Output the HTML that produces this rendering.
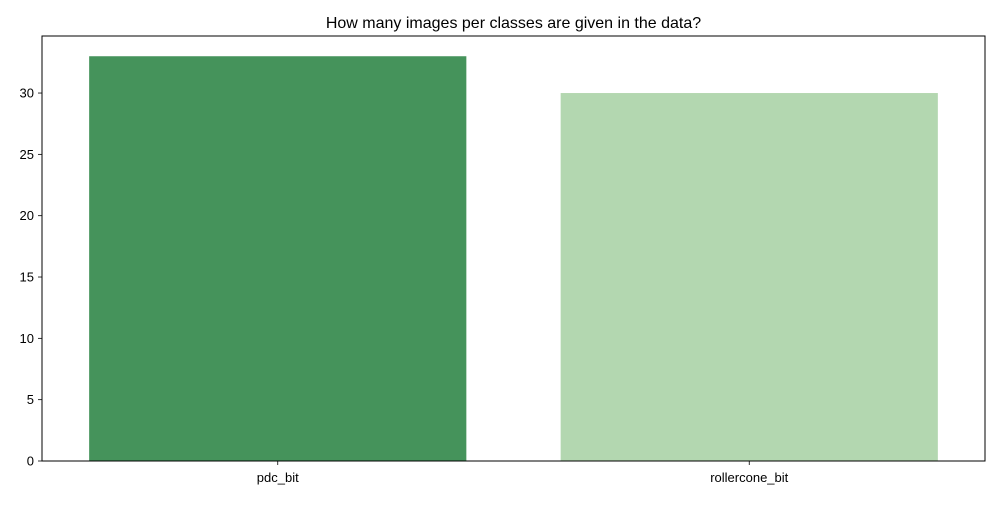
<!DOCTYPE html>
<html><head><meta charset="utf-8"><style>
body{margin:0;background:#fff;}
svg text{font-family:"Liberation Sans","DejaVu Sans",sans-serif;fill:#000;}
</style></head><body>
<svg width="1000" height="500" viewBox="0 0 1000 500">
<rect width="1000" height="500" fill="#fff"/>
<text x="513.5" y="28" font-size="16" text-anchor="middle">How many images per classes are given in the data?</text>
<g id="plot"></g>
</svg>
<script>
const categories = ["pdc_bit", "rollercone_bit"];
const values = [33, 30];
const colors = ["#45935b", "#b3d7b0"];
const yTicks = [0, 5, 10, 15, 20, 25, 30];

const L = 42, R = 985, T = 36, B = 461;
const yMax = 34.65, xMin = -0.5, xMax = 1.5;
const ys = v => B - v / yMax * (B - T);
const xs = v => L + (v - xMin) / (xMax - xMin) * (R - L);
const NS = "http://www.w3.org/2000/svg";
const g = document.getElementById("plot");
function mk(tag, attrs, parent) {
  const e = document.createElementNS(NS, tag);
  for (const k in attrs) e.setAttribute(k, attrs[k]);
  (parent || g).appendChild(e);
  return e;
}
categories.forEach((c, i) => {
  const x0 = xs(i - 0.4), x1 = xs(i + 0.4);
  const r = mk("rect", {x: x0, y: ys(values[i]), width: x1 - x0, height: B - ys(values[i]), fill: colors[i]});
  
  
  const tk = mk("line", {x1: xs(i), x2: xs(i), y1: B, y2: B + 4, stroke: "#000", "stroke-width": 0.8});
  
  
  const t = mk("text", {x: xs(i), y: B + 21, "font-size": 13, "text-anchor": "middle"});
  t.textContent = c;
  
  
});
yTicks.forEach(v => {
  const tk = mk("line", {x1: L - 4, x2: L, y1: ys(v), y2: ys(v), stroke: "#000", "stroke-width": 0.8});
  
  
  const t = mk("text", {x: L - 8, y: ys(v) + 4.5, "font-size": 13, "text-anchor": "end"});
  t.textContent = v;
  
  
});
const frame = mk("rect", {x: L, y: T, width: R - L, height: B - T, fill: "none", stroke: "#000", "stroke-width": 1});


</script>
</body></html>
